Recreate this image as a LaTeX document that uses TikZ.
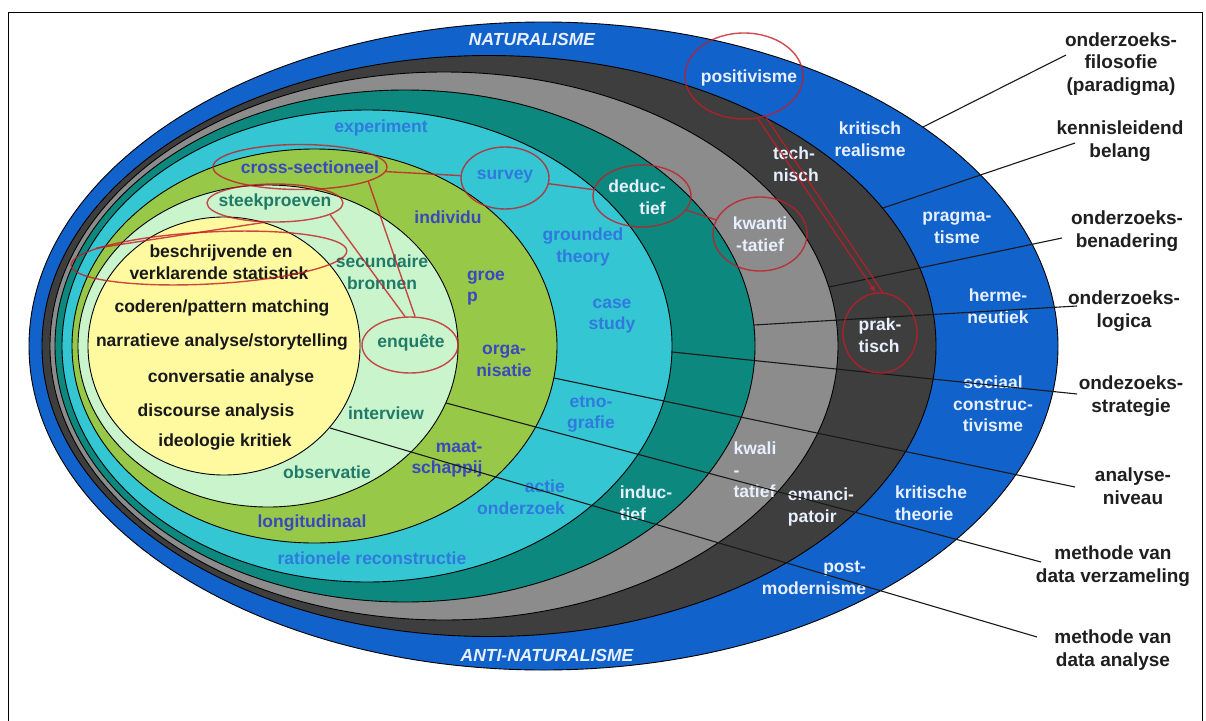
\documentclass[tikz,border=0pt]{standalone}
\usepackage{fontspec}
\setmainfont{Liberation Sans}
\usetikzlibrary{shapes.geometric,arrows.meta}
\definecolor{cblue}{RGB}{18,98,204}
\definecolor{cdark}{RGB}{62,62,62}
\definecolor{cgray}{RGB}{140,140,140}
\definecolor{cteal}{RGB}{12,136,126}
\definecolor{ccyan}{RGB}{52,198,210}
\definecolor{cgreen}{RGB}{152,200,72}
\definecolor{cltgreen}{RGB}{202,244,204}
\definecolor{cyellow}{RGB}{255,250,160}
\definecolor{tcyan}{RGB}{48,122,222}
\definecolor{tgreen}{RGB}{58,72,190}
\definecolor{tlt}{RGB}{32,122,104}
\definecolor{twhite}{RGB}{232,240,255}
\definecolor{rd}{RGB}{196,28,38}
\begin{document}
\begin{tikzpicture}[x=1pt,y=-1pt,
  band/.style={draw=black,line width=0.9pt},
  lbl/.style={font=\fontsize{17.5}{21.5}\selectfont\bfseries,align=center,inner sep=0pt},
  wt/.style={lbl,text=twhite},
  ct/.style={lbl,text=tcyan},
  gt/.style={lbl,text=tgreen},
  lt/.style={lbl,text=tlt},
  yt/.style={lbl,text=black!90},
  rl/.style={font=\fontsize{19}{22.5}\selectfont\bfseries,align=center,inner sep=0pt,text=black!88},
  conn/.style={draw=black!90,line width=1.1pt},
  rell/.style={ellipse,draw=rd,line width=1.4pt,inner sep=0pt,draw opacity=0.8},
  redl/.style={draw=rd,line width=1.4pt,draw opacity=0.8}
]
\useasboundingbox (0,0) rectangle (1206,720);
\fill[white] (0,0) rectangle (1206,720);
\draw[black,line width=1pt] (8,722) -- (8,12) -- (1202,12) -- (1202,722);

% nested ellipses
\path[band,fill=cblue]    (543.5,346) ellipse [x radius=514.5pt, y radius=324pt];
\path[band,fill=cdark]    (489,346)   ellipse [x radius=447pt,   y radius=290.5pt];
\path[band,fill=cgray]    (444,346)   ellipse [x radius=394pt,   y radius=274pt];
\path[band,fill=cteal]    (405,346)   ellipse [x radius=350pt,   y radius=256pt];
\path[band,fill=ccyan]    (367,346)   ellipse [x radius=305pt,   y radius=236pt];
\path[band,fill=cgreen]   (314.5,346) ellipse [x radius=242.5pt, y radius=197pt];
\path[band,fill=cltgreen] (268,346)   ellipse [x radius=190pt,   y radius=161pt];
\path[band,fill=cyellow]  (224,346)   ellipse [x radius=136pt,   y radius=129pt];

% blue band
\node[wt,font=\fontsize{17.5}{21.5}\selectfont\bfseries\itshape] (tnat) at (532,39) {NATURALISME};
\node[wt,font=\fontsize{17.5}{21.5}\selectfont\bfseries\itshape] (tanat) at (547,655) {ANTI-NATURALISME};
\node[wt] (tpos) at (749,78) {positivisme};
\node[wt] (tkr) at (870,139) {kritisch\\realisme};
\node[wt] (tpra) at (957,228) {pragma-\\tisme};
\node[wt] (ther) at (998,306) {herme-\\neutiek};
\node[wt] (tsoc) at (993,404) {sociaal\\construc-\\tivisme};
\node[wt,align=left] (tkrt) at (931,503) {kritische\\theorie};
\node[wt,align=right] (tpost) at (814,578) {post-\\modernisme};
% dark band
\node[wt,align=left] (ttech) at (796,164) {tech-\\nisch};
\node[wt,align=left] (tprak) at (880,335) {prak-\\tisch};
\node[wt,align=left] (teman) at (821,507) {emanci-\\patoir};
% gray band
\node[wt] (tkwant) at (760,234) {kwanti\\-tatief};
\node[wt,align=left] (tkwal) at (755,470) {kwali\\-\\tatief};
% teal band
\node[wt,align=right] (tded) at (637,197) {deduc-\\tief};
\node[wt,align=left] (tind) at (646,503) {induc-\\tief};
% cyan band
\node[ct] (texp) at (381,128) {experiment};
\node[ct] (tsur) at (505,177) {survey};
\node[ct] (tgro) at (583,247) {grounded\\theory};
\node[ct] (tcase) at (612,316) {case\\study};
\node[ct] (tetn) at (591,414) {etno-\\grafie};
\node[ct,align=right] (tact) at (521,497) {actie\\onderzoek};
\node[ct] (trat) at (372,558) {rationele reconstructie};
% green band
\node[gt] (tcross) at (310,167) {cross-sectioneel};
\node[gt] (tindiv) at (448,217) {individu};
\node[gt,align=left] (tgroep) at (486,288) {groe\\p};
\node[gt] (torg) at (504,361) {orga-\\nisatie};
\node[gt,align=right] (tmaat) at (447,459) {maat-\\schappij};
\node[gt] (tlong) at (312,523) {longitudinaal};
% light green band
\node[lt] (tsteek) at (275,202) {steekproeven};
\node[lt] (tsec) at (382,272) {secundaire\\bronnen};
\node[lt] (tenq) at (411,343) {enquête};
\node[lt] (tint) at (386,413) {interview};
\node[lt] (tobs) at (327,472) {observatie};
% yellow
\node[yt] (y1) at (221,253) {beschrijvende en};
\node[yt] (y2) at (219,273) {verklarende statistiek};
\node[yt] (y3) at (222,308) {coderen/pattern matching};
\node[yt] (y4) at (222,342) {narratieve analyse/storytelling};
\node[yt] (y5) at (231,378) {conversatie analyse};
\node[yt] (y6) at (216,412) {discourse analysis};
\node[yt] (y7) at (225,442) {ideologie kritiek};

% right labels
\node[rl] (lfil) at (1121,64) {onderzoeks-\\filosofie\\(paradigma)};
\node[rl] (lken) at (1120,141) {kennisleidend\\belang};
\node[rl] (lben) at (1127,231) {onderzoeks-\\benadering};
\node[rl] (llog) at (1124,311) {onderzoeks-\\logica};
\node[rl] (lstr) at (1131,396) {ondezoeks-\\strategie};
\node[rl] (lana) at (1133,486) {analyse-\\niveau};
\node[rl] (lver) at (1113,566) {methode van\\data verzameling};
\node[rl] (ldan) at (1113,650) {methode van\\data analyse};

% connector coordinates
\coordinate (s1) at (1066,55);  \coordinate (e1) at (923,127);
\coordinate (s2) at (1075,143); \coordinate (e2) at (883,208);
\coordinate (s3) at (1062,238); \coordinate (e3) at (829,287);
\coordinate (s4) at (1077,306); \coordinate (e4) at (754,325);
\coordinate (s5) at (1077,394); \coordinate (e5) at (672,352);
\coordinate (s6) at (1075,487); \coordinate (e6) at (554,378);
\coordinate (s7) at (1041,562); \coordinate (e7) at (446,403);
\coordinate (s8) at (1037,637); \coordinate (e8) at (330,428);
\foreach \i in {1,...,8} {\draw[conn] (s\i) -- (e\i);}

% red annotations
\node[rell,minimum width=118pt,minimum height=86pt] (rpos) at (744,76) {};
\node[rell,minimum width=98pt,minimum height=62pt] (rded) at (642,196) {};
\node[rell,minimum width=94pt,minimum height=74pt] (rkwant) at (760,234) {};
\node[rell,minimum width=74pt,minimum height=80pt] (rprak) at (880,333) {};
\node[rell,minimum width=88pt,minimum height=62pt] (rsurv) at (505,178) {};
\node[rell,minimum width=174pt,minimum height=45pt] (rcross) at (300,167) {};
\node[rell,minimum width=136pt,minimum height=38pt] (rsteek) at (275,203) {};
\node[rell,minimum width=276pt,minimum height=52pt,rotate=3] (rstat) at (209,258) {};
\node[rell,minimum width=96pt,minimum height=56pt] (renq) at (410,345) {};

\draw[redl] (rcross) -- (rsurv);
\draw[redl] (rsurv) -- (rded);
\draw[redl] (rded) -- (rkwant);
\draw[redl] (rcross.-12) -- (renq.80);
\draw[redl] (rsteek.-12) -- (renq.100);
\draw[redl] (rsteek.-120) -- (rstat.172);
\draw[redl,-{Latex[length=7pt,width=6pt]}] (rpos.-72) -- (rprak.96);
\draw[redl] (rpos.-62) -- (rprak.86);
\end{tikzpicture}
\end{document}
